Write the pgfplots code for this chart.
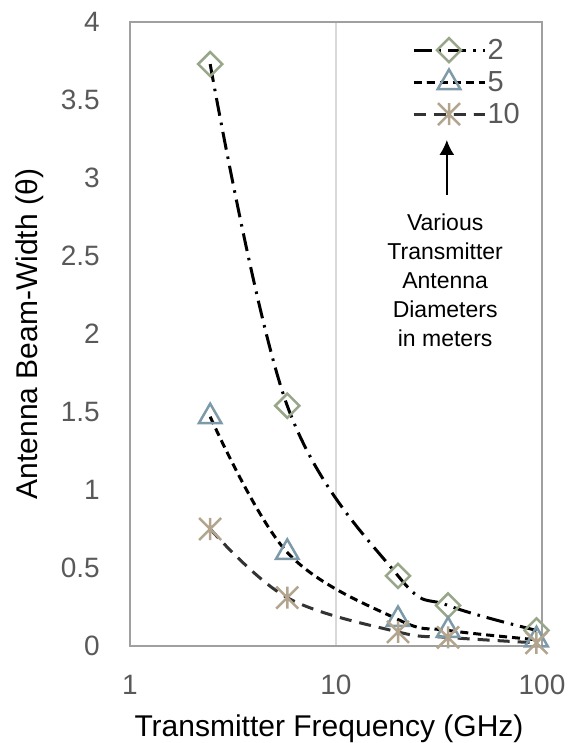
\documentclass[border=0pt]{standalone}
\usepackage{fontspec}
\setmainfont{Liberation Sans}
\usepackage{pgfplots}
\pgfplotsset{compat=1.18}
\usetikzlibrary{arrows.meta}
\definecolor{tickgray}{HTML}{595959}
\definecolor{framegray}{HTML}{A0A0A0}
\definecolor{gridgray}{HTML}{D9D9D9}
\definecolor{dcol}{HTML}{98A68A}
\definecolor{tcol}{HTML}{7E9AA9}
\definecolor{scol}{HTML}{B3A48E}
\definecolor{l10}{HTML}{333333}
\pgfdeclareplotmark{xstar}{%
  \pgfpathmoveto{\pgfqpoint{0pt}{\pgfplotmarksize}}\pgfpathlineto{\pgfqpoint{0pt}{-\pgfplotmarksize}}%
  \pgfpathmoveto{\pgfqpoint{-\pgfplotmarksize}{\pgfplotmarksize}}\pgfpathlineto{\pgfqpoint{\pgfplotmarksize}{-\pgfplotmarksize}}%
  \pgfpathmoveto{\pgfqpoint{-\pgfplotmarksize}{-\pgfplotmarksize}}\pgfpathlineto{\pgfqpoint{\pgfplotmarksize}{\pgfplotmarksize}}%
  \pgfusepathqstroke}
\begin{document}
\begin{tikzpicture}
\begin{axis}[
  scale only axis,
  width=412bp, height=624bp,
  xmode=log, xmin=1, xmax=100,
  ymin=0, ymax=4,
  xtick={1,10,100}, xticklabels={1,10,100},
  minor xtick={},
  ytick={0,0.5,1,1.5,2,2.5,3,3.5,4},
  major tick length=0pt, minor tick length=0pt,
  xmajorgrids, major grid style={gridgray, line width=1.2bp},
  axis line style={framegray, line width=1.5bp},
  /pgf/number format/assume math mode=true,
  yticklabel style={/pgf/number format/fixed, anchor=east, inner sep=0pt, xshift=-30bp},
  xticklabel style={anchor=north, inner sep=0pt, yshift=-29bp},
  tick label style={font=\fontsize{28bp}{34bp}\selectfont, text=tickgray},
  xlabel={Transmitter Frequency (GHz)},
  ylabel={Antenna Beam-Width (θ)},
  label style={font=\fontsize{30bp}{36bp}\selectfont, text=black, inner sep=0pt},
  xlabel style={at={(axis description cs:0.483,-0.1458)}, anchor=base},
  ylabel style={at={(axis description cs:-0.2257,0.5)}, anchor=base, rotate=0},
  legend style={at={(rel axis cs:0.684,0.975)}, anchor=north west, draw=none, fill=none,
    inner sep=0pt, row sep=7bp, font=\fontsize{29bp}{34bp}\selectfont, text=tickgray,
    nodes={inner sep=1.5bp}},
  legend cell align=left,
  legend image code/.code={\draw[mark repeat=2, mark phase=2, #1] plot coordinates {(0bp,0bp) (35.5bp,0bp) (71bp,0bp)};},
]
\addplot[black, line width=3bp, smooth, tension=0.6, dash pattern=on 18bp off 7bp on 2.5bp off 7bp,
  mark=square, mark size=8.5bp, mark options={solid, rotate=45, draw=dcol, fill=white, line width=2.5bp}]
  coordinates {(2.45,3.73) (5.8,1.54) (20,0.45) (35,0.26) (94,0.10)};
\addlegendentry{2}
\addplot[black, line width=3bp, smooth, tension=0.6, dash pattern=on 8bp off 5bp,
  mark=triangle, mark size=13bp, mark options={solid, draw=tcol, fill=white, line width=2.5bp}]
  coordinates {(2.45,1.47) (5.8,0.60) (20,0.17) (35,0.10) (94,0.04)};
\addlegendentry{5}
\addplot[l10, line width=3bp, smooth, tension=0.6, dash pattern=on 12bp off 8bp,
  mark=xstar, mark size=11bp, mark options={solid, draw=scol, line width=2.5bp}]
  coordinates {(2.45,0.75) (5.8,0.31) (20,0.09) (35,0.055) (94,0.02)};
\addlegendentry{10}
\draw[-{Latex[length=15bp,width=15bp]}, black, line width=2bp] (rel axis cs:0.769,0.723) -- (rel axis cs:0.769,0.811);
\node[anchor=north, align=center, font=\fontsize{23bp}{29bp}\selectfont, inner sep=0pt]
  at (rel axis cs:0.765,0.693) {Various\\Transmitter\\Antenna\\Diameters\\in meters};
\coordinate (A) at (rel axis cs:0,0);
\coordinate (B) at (rel axis cs:1,1);
\end{axis}
\pgfresetboundingbox
\path[use as bounding box] ([shift={(-130bp,-97bp)}]A) rectangle ([shift={(28bp,22bp)}]B);
\end{tikzpicture}
\end{document}
